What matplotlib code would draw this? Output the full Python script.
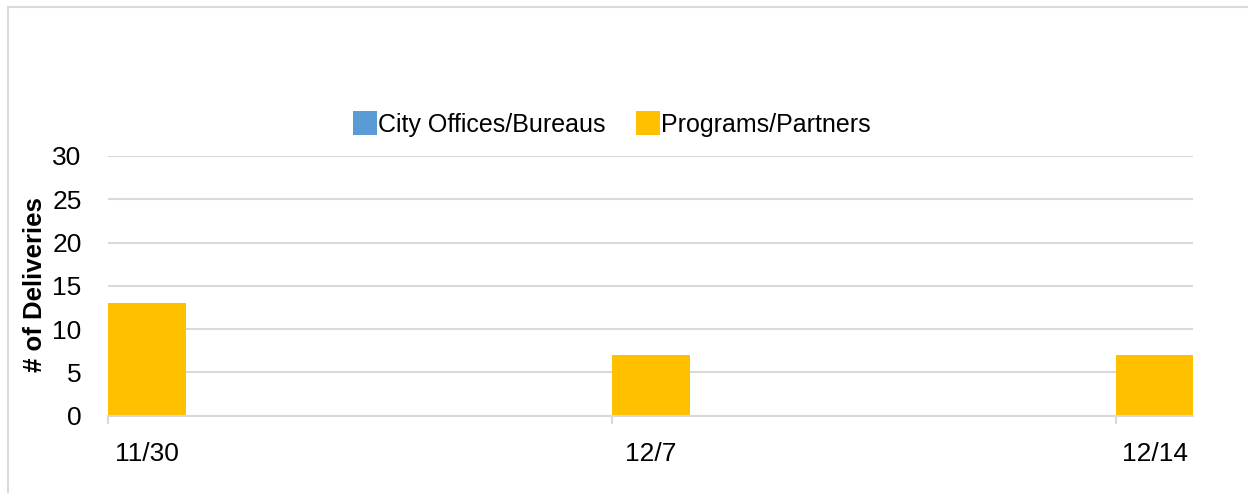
import numpy as np
import matplotlib
matplotlib.use('Agg')
import matplotlib.pyplot as plt
from matplotlib.lines import Line2D

# data
dates = ['11/30', '12/7', '12/14']
cityOffices = [0, 0, 0]
programsPartners = [13, 7, 7]
seriesNames = ['City Offices/Bureaus', 'Programs/Partners']

plt.rcParams['font.family'] = ['Liberation Sans', 'DejaVu Sans']

fig = plt.figure(figsize=(12.48, 4.93), dpi=100)
W = 1248.0
H = 493.0
ax = fig.add_axes([108/W, 1-415.7/H, (1193-108)/W, (415.7-156)/H])

x = np.arange(len(dates))
barWidth = 0.155
gridCol = '#D9D9D9'

b1 = ax.bar(x, cityOffices, barWidth, color='#5B9BD5', zorder=2, label=seriesNames[0])
b2 = ax.bar(x, programsPartners, barWidth, bottom=cityOffices, color='#FFC000', zorder=2, label=seriesNames[1])

ax.set_xlim(-0.0775, 2.075)
ax.set_ylim(0, 30)
ax.set_yticks(np.arange(0, 31, 5))
ax.yaxis.grid(True, color=gridCol, linewidth=1.5, zorder=1)
ax.set_axisbelow(True)

# ticks sit at the left edge of each bar, labels under bar centres
ax.set_xticks(x - barWidth/2)
ax.set_xticklabels([])
ax.set_xticks(x, minor=True)
ax.set_xticklabels(dates, minor=True)
ax.tick_params(axis='x', which='major', length=6, width=1.5, color=gridCol)
ax.tick_params(axis='x', which='minor', length=0, pad=19, labelsize=19)
ax.tick_params(axis='y', length=0, pad=19, labelsize=19)

for s in ['top', 'right', 'left']:
    ax.spines[s].set_visible(False)
ax.spines['bottom'].set_color(gridCol)
ax.spines['bottom'].set_linewidth(1.5)
ax.spines['bottom'].set_zorder(3)

fig.text(35/W, 1-285/H, '# of Deliveries', rotation=90, fontsize=18.5, fontweight='bold',
         ha='center', va='center')

fig.legend(handles=[b1, b2], loc='center', bbox_to_anchor=(612/W, 1-124/H), ncol=2,
           frameon=False, fontsize=18, handlelength=0.95, handleheight=1.05,
           handletextpad=0.05, columnspacing=1.2, borderaxespad=0)

# light border of the chart area
fig.add_artist(Line2D([8/W, 8/W], [0, 1-7/H], color=gridCol, linewidth=1.5))
fig.add_artist(Line2D([8/W, 1], [1-7/H, 1-7/H], color=gridCol, linewidth=1.5))

plt.savefig('out.png', dpi=100)
